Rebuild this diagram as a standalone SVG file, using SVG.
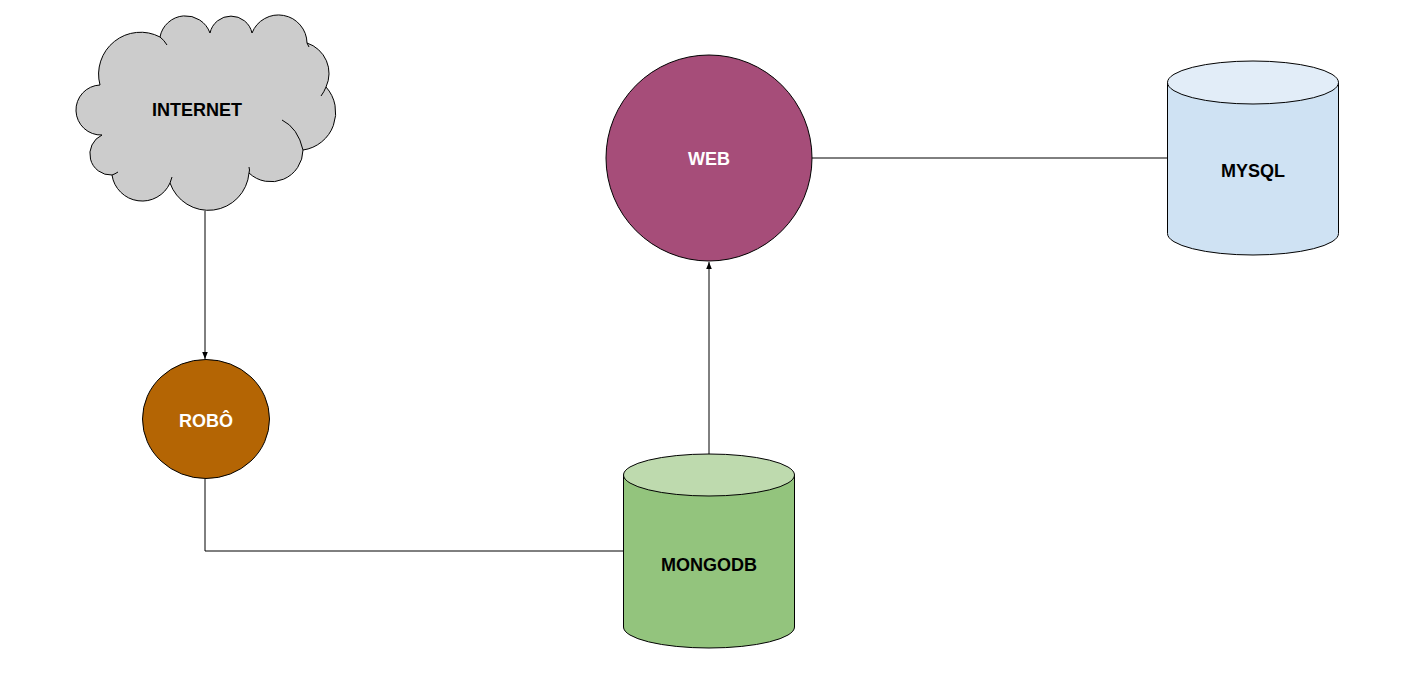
<svg xmlns="http://www.w3.org/2000/svg" width="1418" height="694" viewBox="0 0 1418 694">
<defs>
<style>
.lbl{font-family:"Liberation Sans",Arial,sans-serif;font-weight:bold;font-size:18px;text-anchor:middle}
.dark{fill:#000}
.light{fill:#fff}
.edge{fill:none;stroke:#000;stroke-width:1}
.sh{stroke:#000;stroke-width:1}
</style>
<marker id="arr" viewBox="0 0 10 10" refX="10" refY="5" markerWidth="7" markerHeight="7" orient="auto" markerUnits="userSpaceOnUse">
<path d="M0,1 L10,5 L0,9 Z" fill="#000"/>
</marker>
</defs>
<rect width="1418" height="694" fill="#fff"/>
<g id="connectors">
<path class="edge" d="M205,211 V359" marker-end="url(#arr)"/>
<path class="edge" d="M709,454 V262" marker-end="url(#arr)"/>
<path class="edge" d="M205,479 V551 H623"/>
<path class="edge" d="M812,158 H1167"/>
</g>
<g id="internet">
<path class="sh" fill="#cccccc" d="M100,85 A42,42 0 0 1 160,37 A26,26 0 0 1 210,33 A21.5,21.5 0 0 1 252,33 A28.5,28.5 0 0 1 307,43 A32,32 0 0 1 326,87 A38,38 0 0 1 303,150 A32,32 0 0 1 249,173 A40.7,40.7 0 0 1 170,183 A30.5,30.5 0 0 1 112,175 A21,21 0 0 1 102,135 A25,25 0 0 1 100,85 Z"/>
<path class="edge" d="M160,37 Q164,40 167,45"/>
<path class="edge" d="M307,43 Q308,45 309,47"/>
<path class="edge" d="M326,87 Q324,92 321,96"/>
<path class="edge" d="M303,150 Q298,128 282,120"/>
<path class="edge" d="M249,173 Q250,170 249,167"/>
<path class="edge" d="M170,183 Q171,180 172,177"/>
<path class="edge" d="M112,175 Q115,174 118,172"/>
<text class="lbl dark" x="197" y="116">INTERNET</text>
</g>
<g id="robo">
<ellipse class="sh" fill="#b46504" cx="206" cy="419" rx="63.5" ry="59.5"/>
<text class="lbl light" x="206" y="426.5">ROBÔ</text>
</g>
<g id="web">
<circle class="sh" fill="#a64d79" cx="709" cy="158" r="103"/>
<text class="lbl light" x="709" y="164.5">WEB</text>
</g>
<g id="mongodb">
<path class="sh" fill="#93c47d" d="M623.5,475 V627 A85.5,21 0 0 0 794.5,627 V475 Z"/>
<ellipse class="sh" fill="#bedaae" cx="709" cy="475" rx="85.5" ry="21"/>
<text class="lbl dark" x="709" y="570.5">MONGODB</text>
</g>
<g id="mysql">
<path class="sh" fill="#cfe2f3" d="M1167.5,82.5 V233.5 A85.5,21.5 0 0 0 1338.5,233.5 V82.5 Z"/>
<ellipse class="sh" fill="#e2edf8" cx="1253" cy="82.5" rx="85.5" ry="21.5"/>
<text class="lbl dark" x="1253" y="176.5">MYSQL</text>
</g>
</svg>
